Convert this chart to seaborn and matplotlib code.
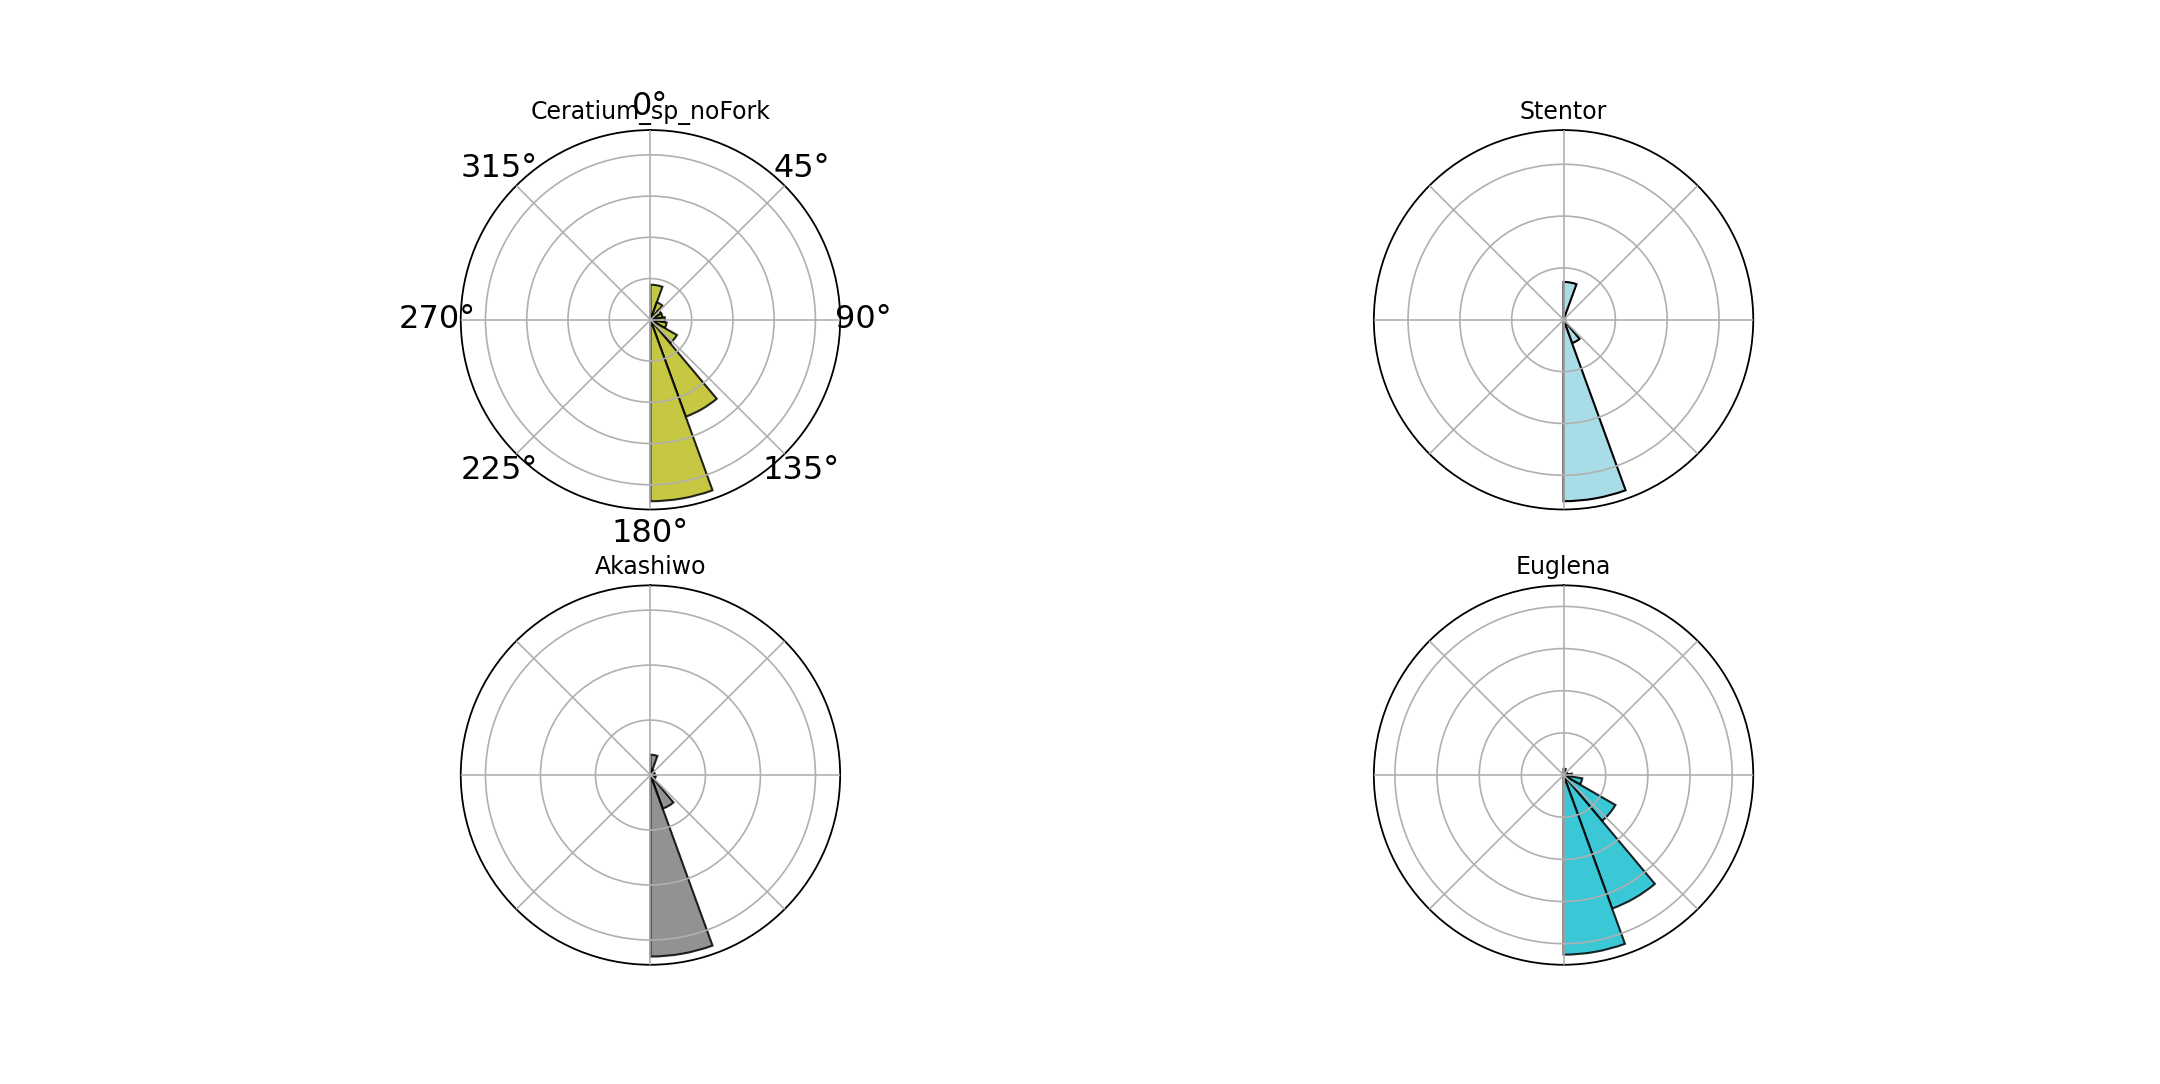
import seaborn as sns
import matplotlib.pyplot as plt
import numpy as np

# orientation histograms, 20 degree bins from 0 to 180
bin_edges_deg = [0, 20, 40, 60, 80, 100, 120, 140, 160]
species = ["Ceratium_sp_noFork", "Stentor", "Akashiwo", "Euglena"]
ceratium_counts = [8.5, 4.5, 3, 3, 3.5, 4, 7.4, 25, 44]
stentor_counts = [7.3, 0.5, 0, 0, 0, 0.3, 0, 4.8, 35]
akashiwo_counts = [3.7, 1, 0.8, 0.6, 0.8, 1, 0.8, 6.5, 33]
euglena_counts = [1.5, 0.3, 0.5, 1, 2, 4.5, 14.2, 33.7, 42.6]
colors = ["#bcbd22", "#a8dce6", "#7f7f7f", "#17becf"]
alphas = [0.85, 1.0, 0.85, 0.85]
rmax = [46, 36.6, 34.5, 45]

sns.set_theme(style="white", font="DejaVu Sans")
plt.rcParams["font.family"] = ["DejaVu Sans"]
plt.rcParams["text.color"] = "black"
plt.rcParams["xtick.color"] = "black"

fig, axes = plt.subplots(2, 2, figsize=(21.6, 10.84), dpi=100,
                         subplot_kw={"projection": "polar"})
all_counts = [ceratium_counts, stentor_counts, akashiwo_counts, euglena_counts]

for i, ax in enumerate(axes.flat):
    ax.set_theta_zero_location("N")
    ax.set_theta_direction(-1)
    ax.bar(np.deg2rad(bin_edges_deg), all_counts[i], width=np.deg2rad(20),
           align="edge", color=colors[i], alpha=alphas[i], edgecolor="black",
           linewidth=1.5, zorder=1)
    ax.set_axisbelow(False)
    ax.set_ylim(0, rmax[i])
    ax.set_yticks([10, 20, 30, 40] if rmax[i] > 40 else [10, 20, 30])
    ax.set_yticklabels([])
    ax.set_xticks(np.deg2rad(np.arange(0, 360, 45)))
    ax.grid(True, color="#b0b0b0", linewidth=1.2)
    for s in ax.spines.values():
        s.set_color("black")
        s.set_linewidth(1.3)
    ax.set_title(species[i], fontsize=17, y=1.0, pad=8, color="black")
    if i == 0:
        ax.tick_params(axis="x", labelsize=23, pad=4, labelcolor="black")
    else:
        ax.set_xticklabels([])

plt.savefig("out.png", dpi=100)
